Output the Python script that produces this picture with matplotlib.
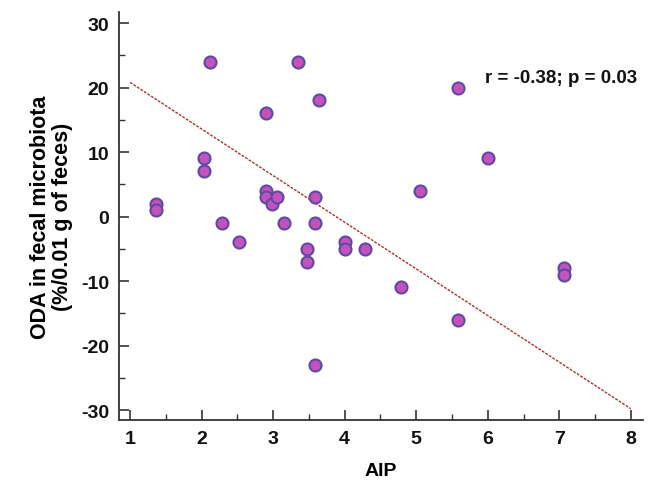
import matplotlib
matplotlib.use("Agg")
import matplotlib.pyplot as plt
from matplotlib.ticker import MultipleLocator

plt.rcParams['font.family'] = ['Liberation Sans', 'DejaVu Sans']
plt.rcParams['axes.unicode_minus'] = False

aip = [2.12, 3.35, 3.64, 2.90, 2.04, 2.04, 1.37, 1.37, 2.90, 2.90,
       2.99, 3.06, 3.59, 2.29, 3.15, 3.59, 2.53, 3.48, 3.48, 4.00,
       4.00, 4.29, 3.59, 4.79, 6.00, 5.06, 7.06, 7.06, 5.59, 5.59]
oda = [24, 24, 18, 16, 9, 7, 2, 1, 4, 3,
       2, 3, 3, -1, -1, -1, -4, -5, -7, -4,
       -5, -5, -23, -11, 9, 4, -8, -9, -16, 20]
fit_x = [1, 8]
fit_y = [20.8, -29.8]
annotation = "r = -0.38; p = 0.03"
x_ticks = [1, 2, 3, 4, 5, 6, 7, 8]
y_ticks = [-30, -20, -10, 0, 10, 20, 30]

fig = plt.figure(figsize=(6.63, 4.81), dpi=100)
ax = fig.add_axes([0.1795, 0.1247, 0.7903, 0.8476])

ax.plot(fit_x, fit_y, linestyle=(0, (2, 1)), color='#a8342c', linewidth=1.0, zorder=2)
ax.scatter(aip, oda, s=75, facecolor='#c452bc', edgecolor='#5e4aa4', linewidth=1.5, zorder=3)

ax.set_xlim(0.846, 8.17)
ax.set_ylim(-31.55, 31.66)
ax.set_xticks(x_ticks)
ax.set_yticks(y_ticks)
ax.xaxis.set_minor_locator(MultipleLocator(0.5))
ax.yaxis.set_minor_locator(MultipleLocator(5))

for s in ['top', 'right']:
    ax.spines[s].set_visible(False)
for s in ['left', 'bottom']:
    ax.spines[s].set_color('#333333')
    ax.spines[s].set_linewidth(1.3)

ax.tick_params(which='major', direction='in', length=7.5, width=1.2, color='#333333',
               labelsize=14, pad=7)
ax.tick_params(which='minor', direction='in', length=4, width=1.0, color='#333333')
for lab in ax.get_xticklabels() + ax.get_yticklabels():
    lab.set_fontweight('bold')
    lab.set_color('#111111')

ax.set_xlabel('AIP', fontsize=14, fontweight='bold', labelpad=11)
ax.set_ylabel('ODA in fecal microbiota\n(%/0.01 g of feces)', fontsize=15.5,
              fontweight='bold', labelpad=6, linespacing=1.05)

ax.text(0.698, 0.839, annotation, transform=ax.transAxes, fontsize=13.5,
        fontweight='bold', ha='left', va='center', color='#111111')

fig.savefig('out.png', dpi=100)
